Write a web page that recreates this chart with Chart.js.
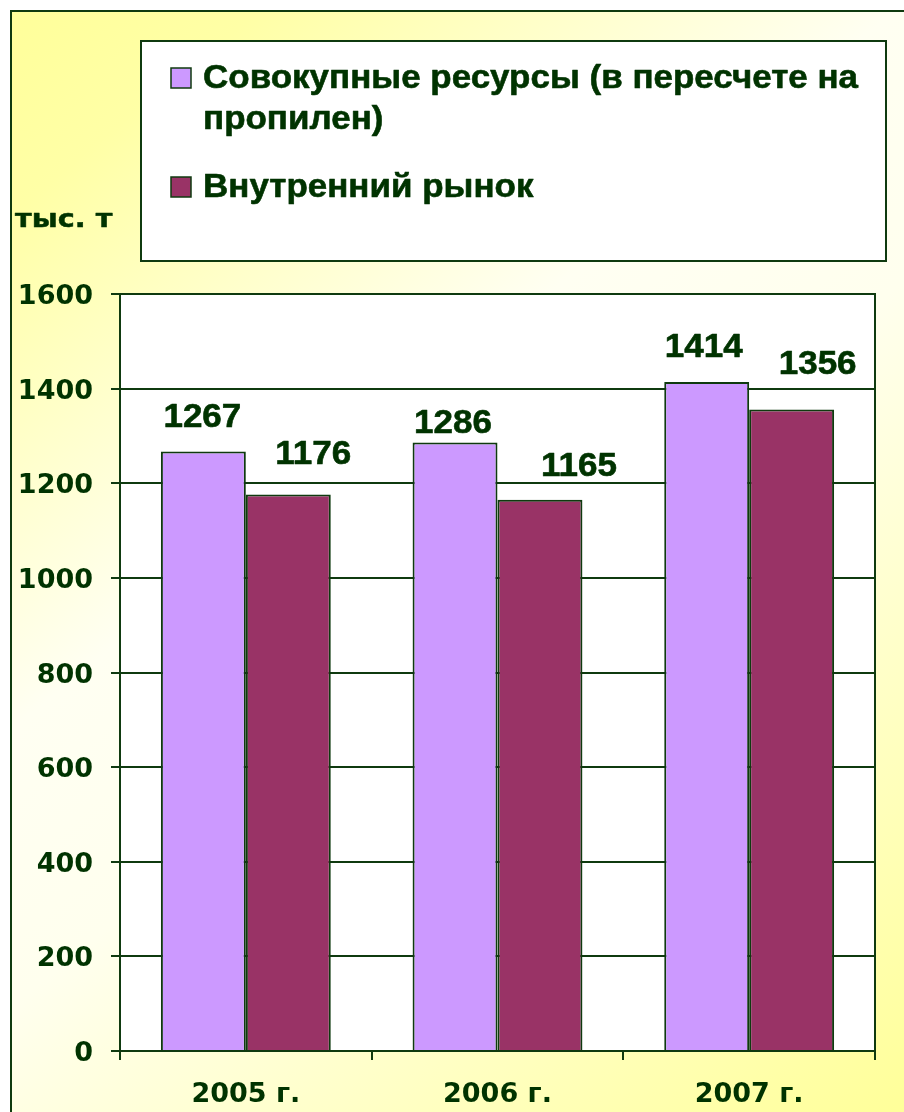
<!DOCTYPE html>
<html>
<head>
<meta charset="utf-8">
<script src="https://cdn.jsdelivr.net/npm/chart.js@4/dist/chart.umd.min.js"></script>
<style>
  html, body { margin: 0; padding: 0; background: #ffffff; }
  #wrap { position: relative; width: 904px; height: 1112px; }
  canvas { display: block; }
</style>
</head>
<body>
<div id="wrap"><canvas id="c" width="904" height="1112"></canvas></div>
<script>
// ---- data ----
const categories = ['2005 г.', '2006 г.', '2007 г.'];
const seriesNames = ['Совокупные ресурсы (в пересчете на пропилен)', 'Внутренний рынок'];
const totalResources = [1267, 1286, 1414];
const domesticMarket = [1176, 1165, 1356];
const yAxisTitle = 'тыс. т';
const yMin = 0, yMax = 1600, yStep = 200;

// ---- style ----
const INK = '#003300';
const LINE = '#0f3a0f';
const colors = ['#CC99FF', '#993366'];
// label nudges relative to each bar's top-centre (dx, dy to label centre)
const labelNudge = [
  [[-1, -37], [-2, -22], [-3, -37]],
  [[25, -43], [39, -36], [26, -47]]
];

function wideText(ctx, text, x, y, sx, align, heavy) {
  const w = ctx.measureText(text).width * sx;
  let x0 = x;
  if (align === 'center') x0 = x - w / 2;
  ctx.save();
  ctx.textAlign = 'left';
  ctx.translate(x0, y);
  ctx.scale(sx, 1);
  ctx.fillText(text, 0, 0);
  if (heavy) {
    ctx.lineWidth = heavy;
    ctx.strokeStyle = ctx.fillStyle;
    ctx.lineJoin = 'round';
    ctx.strokeText(text, 0, 0);
  }
  ctx.restore();
}

const backgroundPlugin = {
  id: 'bg',
  beforeDraw(chart) {
    const ctx = chart.ctx, W = chart.width, H = chart.height;
    ctx.save();
    ctx.fillStyle = '#ffffff';
    ctx.fillRect(0, 0, W, H);
    const g = ctx.createLinearGradient(0, 0, W, H);
    g.addColorStop(0, '#FFFF99');
    g.addColorStop(0.12, '#FFFFA6');
    g.addColorStop(0.4, '#FFFFF2');
    g.addColorStop(0.55, '#FFFFEE');
    g.addColorStop(1, '#FFFF99');
    ctx.fillStyle = g;
    ctx.fillRect(11, 11, W - 11, H - 11);
    ctx.strokeStyle = LINE;
    ctx.lineWidth = 2;
    ctx.beginPath();
    ctx.moveTo(11, H);
    ctx.lineTo(11, 11);
    ctx.lineTo(W, 11);
    ctx.stroke();
    const a = chart.chartArea;
    ctx.fillStyle = '#ffffff';
    ctx.fillRect(a.left, a.top, a.right - a.left, a.bottom - a.top);
    ctx.restore();
  },
  afterDraw(chart) {
    const ctx = chart.ctx, a = chart.chartArea;
    ctx.save();
    ctx.strokeStyle = LINE;
    ctx.lineWidth = 2;
    ctx.beginPath();
    ctx.moveTo(a.left, a.top);
    ctx.lineTo(a.right, a.top);
    ctx.lineTo(a.right, a.bottom);
    ctx.stroke();
    // y-axis title
    ctx.fillStyle = INK;
    ctx.font = 'bold 25px "DejaVu Sans", Verdana, sans-serif';
    ctx.textBaseline = 'alphabetic';
    wideText(ctx, yAxisTitle, 15, 227, 1.15, 'left', 0.5);
    // legend box
    const lx = 141, ly = 41, lw = 745, lh = 220;
    ctx.fillStyle = '#ffffff';
    ctx.fillRect(lx, ly, lw, lh);
    ctx.strokeStyle = LINE;
    ctx.lineWidth = 2;
    ctx.strokeRect(lx, ly, lw, lh);
    ctx.font = 'bold 33px "Liberation Sans", Arial, sans-serif';
    const sx = 1.06;
    const maxW = 670;
    let baseline = 88;
    chart.data.datasets.forEach((ds) => {
      ctx.fillStyle = ds.backgroundColor;
      ctx.fillRect(171, baseline - 20, 20, 20);
      ctx.lineWidth = 1.5;
      ctx.strokeStyle = LINE;
      ctx.strokeRect(171, baseline - 20, 20, 20);
      ctx.fillStyle = INK;
      const words = ds.label.split(' ');
      const lines = [];
      let cur = '';
      words.forEach(w => {
        const test = cur ? cur + ' ' + w : w;
        if (ctx.measureText(test).width * sx > maxW && cur) { lines.push(cur); cur = w; }
        else cur = test;
      });
      lines.push(cur);
      lines.forEach((ln, k) => wideText(ctx, ln, 203, baseline + k * 41, sx, 'left', 0.6));
      baseline += (lines.length - 1) * 41 + 68;
    });
    ctx.restore();
  },
  afterDatasetsDraw(chart) {
    const ctx = chart.ctx;
    ctx.save();
    ctx.fillStyle = INK;
    ctx.font = 'bold 34px "Liberation Sans", Arial, sans-serif';
    ctx.textBaseline = 'alphabetic';
    chart.data.datasets.forEach((ds, i) => {
      const meta = chart.getDatasetMeta(i);
      meta.data.forEach((el, j) => {
        const n = labelNudge[i][j];
        wideText(ctx, String(ds.data[j]), el.x + n[0], el.y + n[1] + 12, 1.03, 'center', 0.6);
      });
    });
    ctx.restore();
  }
};

new Chart(document.getElementById('c'), {
  type: 'bar',
  data: {
    labels: categories,
    datasets: [
      { label: seriesNames[0], data: totalResources, backgroundColor: colors[0], borderColor: LINE, borderWidth: 2 },
      { label: seriesNames[1], data: domesticMarket, backgroundColor: colors[1], borderColor: LINE, borderWidth: 2 }
    ]
  },
  options: {
    responsive: false,
    animation: false,
    events: [],
    layout: { padding: { left: 0, top: 294, right: 29, bottom: 0 } },
    datasets: { bar: { categoryPercentage: 0.675, barPercentage: 1.0 } },
    plugins: { legend: { display: false }, tooltip: { enabled: false }, title: { display: false } },
    scales: {
      x: {
        offset: true,
        grid: { offset: true, drawOnChartArea: false, drawTicks: true, tickLength: 9, color: LINE, lineWidth: 2 },
        border: { display: true, color: LINE, width: 2 },
        ticks: { color: INK, font: { family: '"DejaVu Sans", Verdana, sans-serif', size: 27, weight: 'bold' }, padding: 19 },
        afterFit(s) { s.height = 61; }
      },
      y: {
        min: yMin, max: yMax,
        grid: { color: LINE, lineWidth: 2, tickLength: 9, drawTicks: true },
        border: { display: true, color: LINE, width: 2 },
        ticks: {
          stepSize: yStep, color: INK,
          font: { family: '"DejaVu Sans", Verdana, sans-serif', size: 27, weight: 'bold' },
          padding: 18,
          labelOffset: 3,
          callback: (v) => String(v)
        },
        afterFit(s) { s.width = 120; }
      }
    }
  },
  plugins: [backgroundPlugin]
});
</script>
</body>
</html>
